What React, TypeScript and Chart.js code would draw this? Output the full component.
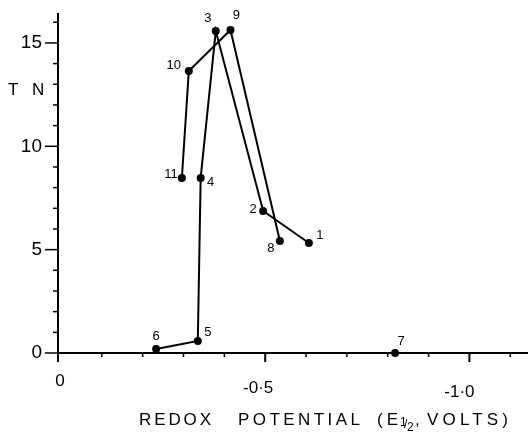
import React, { useEffect, useRef } from 'react';
import { Chart, registerables } from 'chart.js';

Chart.register(...registerables);

// ---- data ----
const pointNumbers = ['1', '2', '3', '4', '5', '6', '7', '8', '9', '10', '11'];
const redoxPotential = [-0.607, -0.495, -0.379, -0.342, -0.335, -0.233, -0.818, -0.536, -0.415, -0.313, -0.296];
const turnoverNumber = [5.32, 6.87, 15.58, 8.47, 0.58, 0.19, 0, 5.42, 15.63, 13.64, 8.47];
const seriesA = ['6', '5', '4', '3', '2', '1'];
const seriesB = ['8', '9', '10', '11'];
const isolated = ['7'];
const xTickValues = [0, -0.5, -1.0];
const xTickLabels = ['0', '-0·5', '-1·0'];
const yTickValues = [0, 5, 10, 15];
const yTickLabels = ['0', '5', '10', '15'];

// ---- styling ----
const FONT = '"Liberation Sans", Arial, sans-serif';
const labelOffsets: Record<string, [number, number]> = {
  '1': [11, -8], '2': [-10, -2], '3': [-8, -13], '4': [10, 5], '5': [10, -9], '6': [0, -13],
  '7': [6, -12], '8': [-9, 7], '9': [6, -14], '10': [-15, -6], '11': [-11, -3],
};
const xTickLabelOffsets: [number, number][] = [[-1, 28], [-7, 35], [-10, 39]];

const pt = (id: string) => {
  const i = pointNumbers.indexOf(id);
  return { x: redoxPotential[i], y: turnoverNumber[i] };
};

function fitText(ctx: any, text: string, x: number, y: number, width: number) {
  ctx.letterSpacing = '0px';
  const w = ctx.measureText(text).width;
  const sp = Math.max(0, (width - w) / Math.max(1, text.length - 1));
  ctx.letterSpacing = `${sp}px`;
  ctx.fillText(text, x, y);
  ctx.letterSpacing = '0px';
}

const decorPlugin = {
  id: 'decor',
  afterDraw(chart: any) {
    const { ctx, chartArea } = chart;
    const xs = chart.scales.x;
    const ys = chart.scales.y;
    ctx.save();
    ctx.strokeStyle = '#000';
    ctx.fillStyle = '#000';
    // y ticks
    ctx.lineWidth = 1.5;
    for (let v = 0; v <= 16; v++) {
      const y = ys.getPixelForValue(v);
      const major = v % 5 === 0;
      ctx.beginPath();
      ctx.moveTo(chartArea.left, y);
      ctx.lineTo(chartArea.left - (major ? 13 : 5), y);
      ctx.stroke();
    }
    // x ticks
    for (let k = 0; k <= 11; k++) {
      const v = -k / 10;
      const x = k === 0 ? chartArea.left : xs.getPixelForValue(v);
      const major = k % 5 === 0;
      ctx.lineWidth = major ? 2 : 1.5;
      ctx.beginPath();
      ctx.moveTo(x, chartArea.bottom);
      ctx.lineTo(x, chartArea.bottom + (major ? 9 : 4));
      ctx.stroke();
    }
    // x tick labels
    ctx.font = `17px ${FONT}`;
    ctx.textAlign = 'center';
    ctx.textBaseline = 'middle';
    xTickValues.forEach((v, i) => {
      const [dx, dy] = xTickLabelOffsets[i];
      ctx.fillText(xTickLabels[i], xs.getPixelForValue(v) + dx, chartArea.bottom + dy);
    });
    // y axis label
    ctx.textAlign = 'left';
    ctx.textBaseline = 'alphabetic';
    ctx.font = `17px ${FONT}`;
    ctx.fillText('T', 8, 95);
    ctx.fillText('N', 32, 95);
    // x axis title
    const base = 425;
    fitText(ctx, 'REDOX', 139, base, 72);
    fitText(ctx, 'POTENTIAL', 238, base, 122);
    fitText(ctx, '(E', 377, base, 21);
    ctx.font = `12px ${FONT}`;
    ctx.fillText('1', 400, base + 1);
    ctx.fillText('/', 404, base + 3);
    ctx.fillText('2', 407, base + 6);
    ctx.font = `17px ${FONT}`;
    fitText(ctx, ',', 415, base, 4);
    fitText(ctx, 'VOLTS)', 427, base, 81);
    // point labels
    ctx.font = `13px ${FONT}`;
    ctx.textAlign = 'center';
    ctx.textBaseline = 'middle';
    pointNumbers.forEach((id, i) => {
      const [dx, dy] = labelOffsets[id];
      ctx.fillText(id, xs.getPixelForValue(redoxPotential[i]) + dx, ys.getPixelForValue(turnoverNumber[i]) + dy);
    });
    ctx.restore();
  },
};

const lineStyle = {
  showLine: true,
  borderColor: '#000',
  borderWidth: 2,
  pointRadius: 4,
  pointHoverRadius: 4,
  pointBackgroundColor: '#000',
  pointBorderColor: '#000',
  pointBorderWidth: 0,
  clip: false as const,
};

export default function App() {
  const ref = useRef<HTMLCanvasElement>(null);
  useEffect(() => {
    document.body.style.margin = '0';
    const chart = new Chart(ref.current as HTMLCanvasElement, {
      type: 'scatter',
      data: {
        datasets: [
          { label: 'A', data: seriesA.map(pt), ...lineStyle },
          { label: 'B', data: seriesB.map(pt), ...lineStyle },
          { label: 'C', data: isolated.map(pt), ...lineStyle, showLine: false },
        ],
      },
      options: {
        animation: false,
        responsive: false,
        layout: { padding: { top: 14, left: 0, right: 0, bottom: 0 } },
        plugins: { legend: { display: false }, tooltip: { enabled: false } },
        scales: {
          x: {
            type: 'linear',
            min: -1.141,
            max: 0.0073,
            reverse: true,
            grid: { display: false, drawTicks: false },
            border: { display: true, color: '#000', width: 2 },
            ticks: { display: false },
            afterFit: (s: any) => { s.height = 83; s.paddingLeft = 0; s.paddingRight = 0; },
          },
          y: {
            type: 'linear',
            min: 0,
            max: 16.4,
            grid: { display: false, drawTicks: false },
            border: { display: true, color: '#000', width: 2 },
            ticks: {
              stepSize: 5,
              color: '#000',
              padding: 16,
              font: { family: FONT, size: 19 },
              callback: (v: any) => {
                const i = yTickValues.indexOf(Number(v));
                return i >= 0 ? yTickLabels[i] : null;
              },
            },
            afterFit: (s: any) => { s.width = 58; s.paddingTop = 0; s.paddingBottom = 0; },
          },
        },
      },
      plugins: [decorPlugin],
    });
    return () => chart.destroy();
  }, []);
  return (
    <div style={{ width: 531, height: 436, background: '#fff' }}>
      <canvas ref={ref} width={531} height={436} style={{ display: 'block' }} />
    </div>
  );
}
